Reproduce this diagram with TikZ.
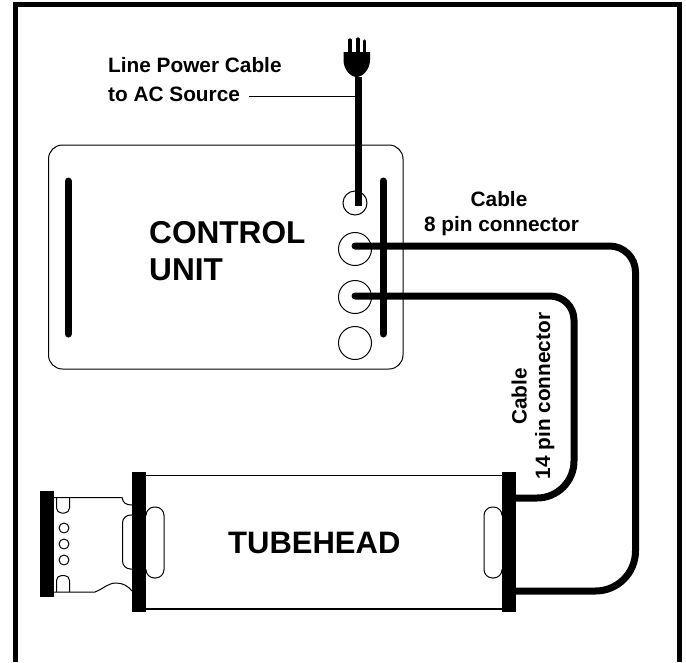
\documentclass[tikz,border=0pt]{standalone}
\usepackage{fontspec}
\setmainfont{Liberation Sans}
\begin{document}
\begin{tikzpicture}[x=1pt,y=-1pt,
  thin line/.style={draw=black,line width=1pt},
  bar/.style={line width=7pt,line cap=round},
  cable/.style={line width=7pt,line cap=round},
  pin/.style={circle,draw=black,line width=1pt,inner sep=0pt,minimum size=#1},
  block/.style={fill=black,draw=none,inner sep=0pt,minimum width=14pt},
  big/.style={font=\fontsize{#1}{#1}\selectfont\bfseries,inner sep=0pt,anchor=base west},
  small/.style={font=\fontsize{20.8}{21}\selectfont\bfseries,inner sep=0pt}
]
\useasboundingbox (0,0) rectangle (686,662);
% frame
\draw[line width=5pt,line cap=butt,miter limit=10] (15.5,662) -- (15.5,4.5) -- (679.5,4.5) -- (679.5,662);
% control unit
\draw[thin line,rounded corners=14pt] (48.5,145) rectangle (403,369);
\node[pin=24pt] (pinA) at (355,203) {};
\node[pin=33pt] (pinB) at (355,249) {};
\node[pin=33pt] (pinC) at (355,297) {};
\node[pin=33pt] (pinD) at (355,343) {};
\draw[bar] (68,181) -- (68,334);
\draw[bar] (383,181) -- (383,334);
% tubehead
\node[block,minimum height=140pt] (barL) at (139,542) {};
\node[block,minimum height=140pt] (barR) at (509,542) {};
\node[block,minimum height=106pt] (barE) at (47,544) {};
\draw[line width=1pt] (barL.east |- 0,475) -- (barR.west |- 0,475);
\draw[line width=1.2pt] (barL.east |- 0,609) -- (barR.west |- 0,609);
% slots
\draw[thin line,rounded corners=8.5pt] (146,512) -- (146,507) -- (164,507) -- (164,578) -- (146,578) -- (146,572);
\draw[thin line,rounded corners=8.5pt] (502,512) -- (502,507) -- (484,507) -- (484,578) -- (502,578) -- (502,572);
\draw[thin line,rounded corners=8pt] (132,515) -- (122.5,515) -- (122.5,569) -- (132,569);
% end connector
\draw[thin line] (54,497.5) -- (122,497.5) .. controls (123,503) and (126,505) .. (132,505);
\draw[thin line] (54,592) -- (95,592) .. controls (103,589) and (108,583) .. (116,583) .. controls (123,583) and (128,586) .. (132,591);
\draw[thin line,rounded corners=5pt] (56.5,497.5) -- (56.5,513) -- (69.5,513) -- (69.5,497.5);
\draw[thin line,rounded corners=5pt] (56.5,592) -- (56.5,575.5) -- (69.5,575.5) -- (69.5,592);
\node[pin=10pt] (holeA) at (64,528) {};
\node[pin=10pt] (holeB) at (64,544) {};
\node[pin=10pt] (holeC) at (64,560) {};
% cables
\coordinate (pw) at (358,77);
\draw[line width=7pt] (pw) -- (358,206);
\draw[cable] (pinB.center) ++(0,-3) [rounded corners=26pt] -- (635.5,246) [rounded corners=40pt] -- (635.5,591) -- (barR.east |- 0,591);
\draw[cable] (pinC.center) ++(0,-1) [rounded corners=24pt] -- (574,296) [rounded corners=37pt] -- (574,498) -- (barR.east |- 0,498);
% plug
\fill (343.5,52) -- (370,52) -- (370,60) .. controls (370,70) and (362,77) .. (356.7,77) .. controls (351,77) and (343.5,70) .. (343.5,60) -- cycle;
\draw[line width=3.2pt,line cap=round] (350,53) -- (350,40);
\draw[line width=3.2pt,line cap=round] (358,53) -- (358,39);
\draw[line width=3.2pt,line cap=round] (364.5,53) -- (364.5,41);
% labels
\node[small,anchor=base west] (lA) at (108,72.7) {Line Power Cable};
\node[small,anchor=base west] (lB) at (108,101) {to AC Source};
\coordinate (lead) at (249,96.5);
\draw[line width=1pt] (lead) -- (356,96.5);
\node[big=31.6] (cu1) at (149,243) {CONTROL};
\node[big=31.6] (cu2) at (149,280) {UNIT};
\node[big=31] (th) at (228,553) {TUBEHEAD};
\node[small,anchor=base] (c8a) at (499,206.7) {Cable};
\node[small,anchor=base] (c8b) at (501.5,231) {8 pin connector};
\node[small,anchor=base,rotate=90] (c14a) at (526.7,396.5) {Cable};
\node[small,anchor=base,rotate=90] (c14b) at (550,396) {14 pin connector};
\end{tikzpicture}
\end{document}
